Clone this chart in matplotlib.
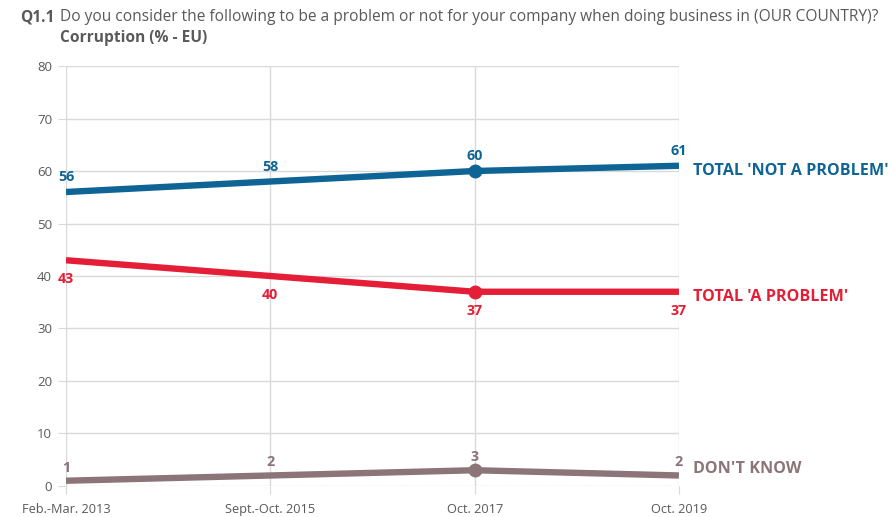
import matplotlib.pyplot as plt
from matplotlib.transforms import offset_copy

plt.rcParams['font.family'] = ['Open Sans', 'DejaVu Sans']

waves = ['Feb.-Mar. 2013', 'Sept.-Oct. 2015', 'Oct. 2017', 'Oct. 2019']
not_problem = [56, 58, 60, 61]
a_problem = [43, 40, 37, 37]
dont_know = [1, 2, 3, 2]

series = [
    ("TOTAL 'NOT A PROBLEM'", not_problem, '#0F6496', 15, -5),
    ("TOTAL 'A PROBLEM'", a_problem, '#E41E36', -19, -5),
    ("DON'T KNOW", dont_know, '#8B7579', 13, 6),
]

fig = plt.figure(figsize=(8.88, 5.17), dpi=100)
ax = fig.add_axes([0.0743, 0.060, 0.6903, 0.8123])
x = list(range(len(waves)))
grid_c = '#D9D9D9'

for name, vals, col, off, name_off in series:
    ax.plot(x, vals, color=col, lw=4.6, solid_capstyle='butt', zorder=3)
    ax.plot([x[2]], [vals[2]], 'o', color=col, ms=9, zorder=4)
    for xi, v in zip(x, vals):
        tr = offset_copy(ax.transData, fig=fig, x=0, y=off, units='dots')
        ax.text(xi, v, str(v), transform=tr, color=col, fontsize=10.3,
                fontweight='bold', ha='center', va='center', zorder=5)
    tr = offset_copy(ax.transData, fig=fig, x=14, y=name_off, units='dots')
    ax.text(x[-1], vals[-1], name, transform=tr, color=col, fontsize=11.6,
            fontweight='bold', ha='left', va='center', clip_on=False)

ax.set_xlim(0, 3)
ax.set_ylim(0, 80)
ax.set_yticks(range(0, 81, 10))
ax.set_xticks(x)
ax.set_xticklabels(waves)
for s in ax.spines.values():
    s.set_visible(False)
ax.grid(True, color=grid_c, lw=1)
ax.set_axisbelow(True)
ax.axhline(0, color='#BFBFBF', lw=1, ls=(0, (1, 1.5)), zorder=2)
ax.tick_params(axis='y', length=6, color=grid_c, labelcolor='#595959',
               labelsize=9.5, pad=4)
ax.tick_params(axis='x', length=6, color=grid_c, labelcolor='#595959',
               labelsize=9.2, pad=6)
# gridline at y=0 replaced by dotted line
ax.get_ygridlines()[0].set_visible(False)

fig.text(20 / 888, 1 - 17 / 517, 'Q1.1', fontsize=11.2, fontweight='bold',
         color='#595959', va='center')
fig.text(60 / 888, 1 - 17 / 517,
         'Do you consider the following to be a problem or not for your company '
         'when doing business in (OUR COUNTRY)?',
         fontsize=11.2, color='#595959', va='center')
fig.text(60 / 888, 1 - 38 / 517, 'Corruption (% - EU)', fontsize=11.2,
         fontweight='bold', color='#595959', va='center')

fig.savefig('out.png', dpi=100)
